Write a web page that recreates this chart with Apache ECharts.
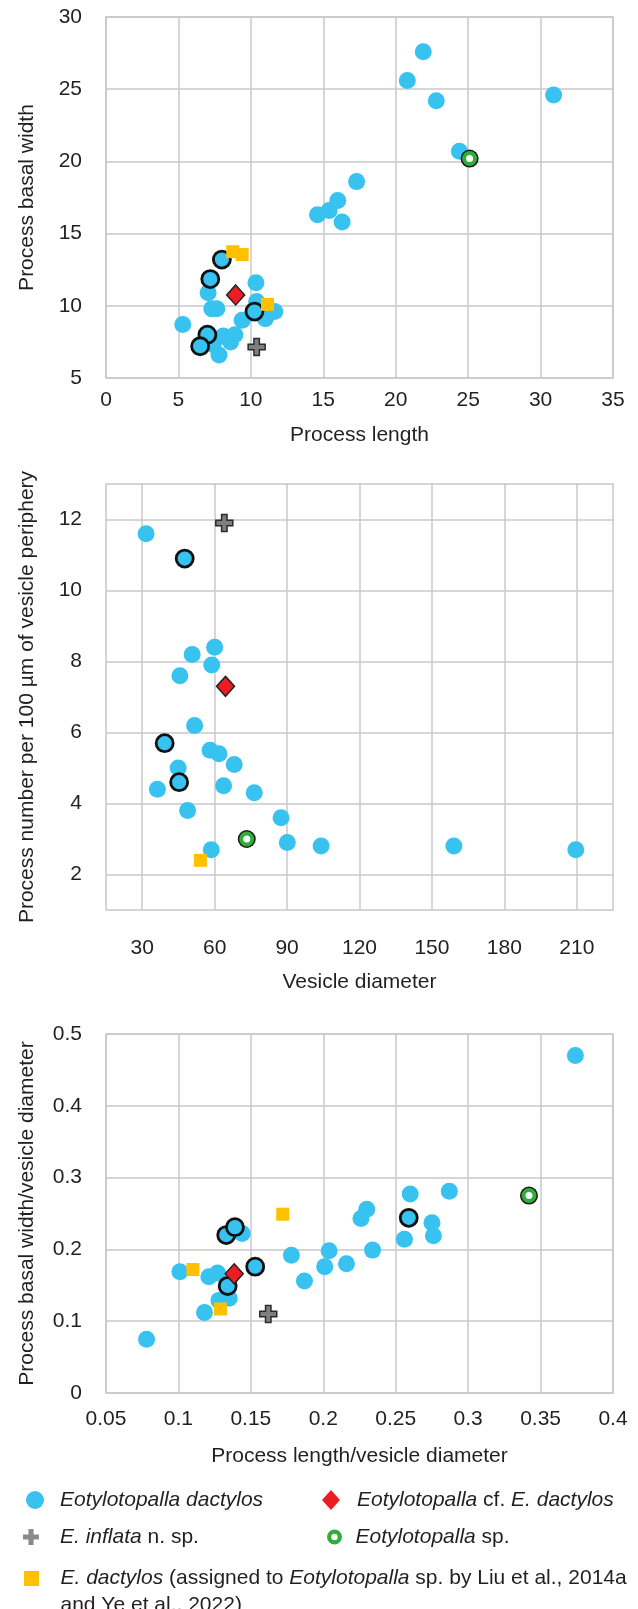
<!DOCTYPE html>
<html>
<head>
<meta charset="utf-8">
<title>Eotylotopalla measurements</title>
<script src="https://cdn.jsdelivr.net/npm/echarts@6/dist/echarts.min.js"></script>
<style>
  html, body { margin: 0; padding: 0; background: #fff; }
  #chart { width: 638px; height: 1609px; }
</style>
</head>
<body>
<div id="chart"></div>
<script>
// panel 1: process length (x) / process basal width (y)
var p1Dactylos = [[21.9, 27.6], [20.8, 25.6], [22.8, 24.2], [30.9, 24.6], [24.4, 20.7], [17.3, 18.6], [16.0, 17.3], [15.4, 16.6], [14.6, 16.3], [16.3, 15.8],
  [5.3, 8.7], [10.35, 11.6], [7.05, 10.9], [7.3, 9.8], [7.65, 9.8], [9.4, 9.0], [10.4, 10.3], [11.0, 9.1], [11.65, 9.6],
  [8.1, 7.9], [8.9, 8.0], [8.6, 7.5], [7.4, 7.3], [7.8, 6.6]]
var p1DactylosRinged = [[8.0, 13.2], [7.2, 11.85], [10.25, 9.6], [7.0, 8.0], [6.5, 7.2]]
var p1Cf = [[8.95, 10.75]]
var p1Inflata = [[10.4, 7.15]]
var p1Sp = [[25.1, 20.2]]
var p1Liu = [[8.75, 13.75], [9.4, 13.55], [11.15, 10.1]]

// panel 2: vesicle diameter (x) / process number per 100 µm (y)
var p2Dactylos = [[31.6, 11.6], [60.0, 8.4], [50.7, 8.2], [58.8, 7.9], [45.6, 7.6], [51.7, 6.2], [58.1, 5.5], [61.8, 5.4], [68.1, 5.1], [44.9, 5.0],
  [36.3, 4.4], [63.7, 4.5], [76.4, 4.3], [48.8, 3.8], [87.5, 3.6], [90.1, 2.9], [104.1, 2.8], [159.1, 2.8], [209.6, 2.7], [58.6, 2.7]]
var p2DactylosRinged = [[47.6, 10.9], [39.3, 5.7], [45.3, 4.6]]
var p2Cf = [[64.5, 7.3]]
var p2Inflata = [[64.0, 11.9]]
var p2Sp = [[73.3, 3.0]]
var p2Liu = [[54.1, 2.4]]

// panel 3: process length/vesicle diameter (x) / process basal width/vesicle diameter (y)
var p3Dactylos = [[0.374, 0.470], [0.078, 0.075], [0.101, 0.169], [0.121, 0.162], [0.127, 0.167], [0.118, 0.112], [0.128, 0.129], [0.135, 0.132],
  [0.144, 0.222], [0.178, 0.192], [0.187, 0.156], [0.204, 0.198], [0.201, 0.176], [0.216, 0.180], [0.226, 0.243], [0.230, 0.256],
  [0.234, 0.199], [0.256, 0.214], [0.260, 0.277], [0.275, 0.237], [0.276, 0.219], [0.287, 0.281]]
var p3DactylosRinged = [[0.133, 0.220], [0.139, 0.231], [0.134, 0.149], [0.153, 0.176], [0.259, 0.244]]
var p3Cf = [[0.1385, 0.166]]
var p3Inflata = [[0.162, 0.110]]
var p3Sp = [[0.342, 0.275]]
var p3Liu = [[0.110, 0.172], [0.129, 0.117], [0.172, 0.249]]

// axis ticks
var p2XTicks = [30, 60, 90, 120, 150, 180, 210]
var p2YTicks = [2, 4, 6, 8, 10, 12]

var FONT = 'Liberation Sans, Arial, sans-serif'
var INK = '#231f20'
var GRID_LINE = '#c8c8c8'
var BLUE = '#38c2f0'
var GREEN = '#2fae3c'
var CROSS = 'path://M3.4,0H6.6V3.4H10V6.6H6.6V10H3.4V6.6H0V3.4H3.4Z'
// legend icons as paths so they keep their aspect
var ICON_DIAMOND = 'path://M9,0L18,10L9,20L0,10Z'
var ICON_SQUARE = 'path://M0,0H10V10H0Z'
var ICON_RING = 'path://M7,0A7,7,0,1,1,7,14A7,7,0,1,1,7,0ZM7,4A3,3,0,1,0,7,10A3,3,0,1,0,7,4Z'

var NAMES = {
  dactylos: 'Eotylotopalla dactylos',
  cf: 'Eotylotopalla cf. E. dactylos',
  inflata: 'E. inflata n. sp.',
  sp: 'Eotylotopalla sp.',
  liu: 'E. dactylos (Liu et al., 2014a; Ye et al., 2022)'
}
var LABELS = {}
LABELS[NAMES.dactylos] = '{i|Eotylotopalla dactylos}'
LABELS[NAMES.cf] = '{i|Eotylotopalla} cf. {i|E. dactylos}'
LABELS[NAMES.inflata] = '{i|E. inflata} n. sp.'
LABELS[NAMES.sp] = '{i|Eotylotopalla} sp.'
LABELS[NAMES.liu] = '\n{i|E. dactylos} (assigned to {i|Eotylotopalla} sp. by Liu et al., 2014a\nand Ye et al., 2022)'

function axis (grid, pos, o) {
  return Object.assign({
    type: 'value',
    gridIndex: grid,
    position: pos,
    nameLocation: 'middle',
    nameTextStyle: { fontFamily: FONT, fontSize: 21, color: INK },
    axisLine: { show: false },
    axisTick: { show: false },
    axisLabel: { fontFamily: FONT, fontSize: 21, color: INK, margin: 24 },
    splitLine: { show: true, lineStyle: { color: GRID_LINE, width: 1.5 } }
  }, o)
}

function panel (grid, d) {
  return [
    { name: NAMES.dactylos, type: 'scatter', xAxisIndex: grid, yAxisIndex: grid, data: d.dactylos,
      symbol: 'circle', symbolSize: 17, itemStyle: { color: BLUE, opacity: 1 } },
    { name: NAMES.dactylos, type: 'scatter', xAxisIndex: grid, yAxisIndex: grid, data: d.ringed,
      symbol: 'circle', symbolSize: 17, itemStyle: { color: BLUE, borderColor: '#111', borderWidth: 2.8, opacity: 1 } },
    { name: NAMES.liu, type: 'scatter', xAxisIndex: grid, yAxisIndex: grid, data: d.liu,
      symbol: 'rect', symbolSize: 13, itemStyle: { color: '#ffc000', opacity: 1 } },
    { name: NAMES.cf, type: 'scatter', xAxisIndex: grid, yAxisIndex: grid, data: d.cf,
      symbol: 'diamond', symbolSize: [18, 20], itemStyle: { color: '#ec1c24', borderColor: '#222', borderWidth: 1.5, opacity: 1 } },
    { name: NAMES.inflata, type: 'scatter', xAxisIndex: grid, yAxisIndex: grid, data: d.inflata,
      symbol: CROSS, symbolSize: 17, itemStyle: { color: '#7f7f7f', borderColor: '#2b2b2b', borderWidth: 1.5, opacity: 1 } },
    // black rim under the green ring
    { name: 'sp-rim', type: 'scatter', xAxisIndex: grid, yAxisIndex: grid, data: d.sp,
      symbol: 'circle', symbolSize: 18, itemStyle: { color: '#1a1a1a', opacity: 1 } },
    { name: NAMES.sp, type: 'scatter', xAxisIndex: grid, yAxisIndex: grid, data: d.sp,
      symbol: 'circle', symbolSize: 11, itemStyle: { color: '#fff', borderColor: GREEN, borderWidth: 4, opacity: 1 } }
  ]
}

// note: with a keep-aspect icon the legend box starts at the icon's left edge
function legendItem (name, icon, color, left, top, w, h, lineHeight) {
  return {
    left: left,
    top: top,
    padding: 0,
    itemWidth: w,
    itemHeight: h,
    symbolKeepAspect: true,
    selectedMode: false,
    data: [{ name: name, icon: icon, itemStyle: { color: color, borderWidth: 0 } }],
    formatter: function (n) { return LABELS[n] },
    textStyle: {
      fontFamily: FONT, fontSize: 21, color: INK, lineHeight: lineHeight,
      rich: { i: { fontFamily: FONT, fontSize: 21, color: INK, fontStyle: 'italic', lineHeight: lineHeight } }
    }
  }
}

var chart = echarts.init(document.getElementById('chart'), null, { renderer: 'canvas' })

var gridBox = { show: true, borderColor: GRID_LINE, borderWidth: 1.5, backgroundColor: 'transparent' }

chart.setOption({
  animation: false,
  backgroundColor: '#fff',
  grid: [
    Object.assign({ left: 106, right: 25, top: 17, height: 361 }, gridBox),
    Object.assign({ left: 106, right: 25, top: 484, height: 426 }, gridBox),
    Object.assign({ left: 106, right: 25, top: 1034, height: 359 }, gridBox)
  ],
  xAxis: [
    axis(0, 'bottom', { name: 'Process length', nameGap: 47, min: 0, max: 35, interval: 5,
      axisLabel: { fontFamily: FONT, fontSize: 21, color: INK, margin: 12 } }),
    axis(1, 'bottom', { name: 'Vesicle diameter', nameGap: 62, min: 15, max: 225,
      axisTick: { show: false, customValues: p2XTicks },
      axisLabel: { fontFamily: FONT, fontSize: 21, color: INK, margin: 28, customValues: p2XTicks } }),
    axis(2, 'bottom', { name: 'Process length/vesicle diameter', nameGap: 53, min: 0.05, max: 0.4, interval: 0.05,
      axisLabel: { fontFamily: FONT, fontSize: 21, color: INK, margin: 16 } })
  ],
  yAxis: [
    axis(0, 'left', { name: 'Process basal width', nameGap: 68, min: 5, max: 30, interval: 5 }),
    axis(1, 'left', { name: 'Process number per 100 µm of vesicle periphery', nameGap: 68, min: 1, max: 13,
      axisTick: { show: false, customValues: p2YTicks },
      axisLabel: { fontFamily: FONT, fontSize: 21, color: INK, margin: 24, customValues: p2YTicks } }),
    axis(2, 'left', { name: 'Process basal width/vesicle diameter', nameGap: 68, min: 0, max: 0.5, interval: 0.1 })
  ],
  legend: [
    legendItem(NAMES.dactylos, 'circle', BLUE, 26, 1488, 40, 18, 24),
    legendItem(NAMES.cf, ICON_DIAMOND, '#ec1c24', 322, 1488, 42, 20, 24),
    legendItem(NAMES.inflata, CROSS, '#8a8a8a', 23, 1525, 48, 16, 24),
    legendItem(NAMES.sp, ICON_RING, GREEN, 327, 1525, 32, 15, 24),
    legendItem(NAMES.liu, ICON_SQUARE, '#ffc000', 24, 1538, 48, 15, 27)
  ],
  series: [].concat(
    panel(0, { dactylos: p1Dactylos, ringed: p1DactylosRinged, cf: p1Cf, inflata: p1Inflata, sp: p1Sp, liu: p1Liu }),
    panel(1, { dactylos: p2Dactylos, ringed: p2DactylosRinged, cf: p2Cf, inflata: p2Inflata, sp: p2Sp, liu: p2Liu }),
    panel(2, { dactylos: p3Dactylos, ringed: p3DactylosRinged, cf: p3Cf, inflata: p3Inflata, sp: p3Sp, liu: p3Liu })
  )
})
</script>
</body>
</html>
